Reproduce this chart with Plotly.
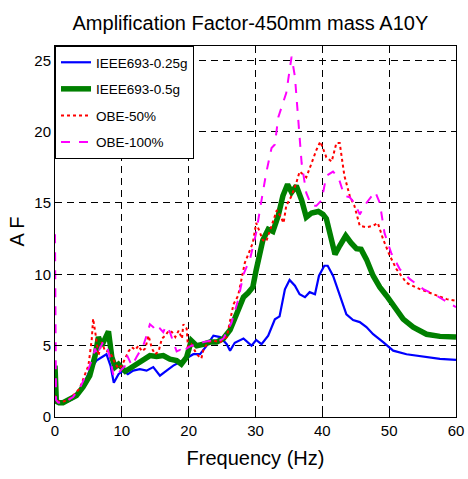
import plotly.graph_objects as go

# Amplification factor vs frequency, 450mm mass, accelerometer A10Y
f_ieee025 = [0, 0.3, 1, 2, 2.7, 3.5, 4.2, 5.2, 6.2, 7.0, 7.7, 8.3, 8.8, 9.5, 10.2, 10.9,
             11.7, 12.7, 13.7, 14.7, 15.7, 16.7, 17.7, 18.7, 19.7, 20.7, 21.7, 22.7, 23.7,
             24.7, 25.7, 26.2, 26.9, 28.2, 29.4, 30.1, 30.9, 31.9, 32.9, 33.6, 34.4, 35.1,
             35.9, 36.6, 37.4, 38.1, 38.9, 39.5, 40.3, 40.8, 41.6, 42.6, 43.6, 44.6, 45.6,
             46.6, 47.6, 49.1, 50.6, 52.6, 55.1, 57.6, 60]
af_ieee025 = [1.3, 1.0, 1.0, 1.1, 1.28, 1.6, 2.2, 3.25, 3.95, 4.2, 4.4, 3.6, 2.4, 3.0, 3.25,
              3.0, 3.25, 3.35, 3.25, 3.5, 2.9, 3.25, 3.6, 3.85, 4.1, 4.4, 4.4, 5.0, 5.7, 5.6,
              5.1, 4.65, 5.2, 5.5, 5.0, 5.4, 5.1, 5.7, 6.85, 7.05, 8.95, 9.6, 9.2, 8.6, 8.4,
              8.75, 8.6, 9.9, 10.6, 10.6, 9.9, 8.5, 7.2, 6.8, 6.65, 6.3, 5.8, 5.25, 4.65, 4.4,
              4.25, 4.07, 4.0]

f_ieee05 = [0, 0.2, 0.6, 1.2, 2.2, 3.2, 4.2, 5.2, 6.0, 6.5, 7.0, 7.5, 8.0, 8.5, 9.0, 9.5,
            10.0, 10.5, 11.2, 12.2, 13.2, 14.2, 15.2, 16.2, 17.2, 18.2, 18.9, 19.7, 20.4,
            21.2, 22.2, 23.2, 24.2, 25.2, 26.2, 27.2, 28.2, 28.9, 29.6, 30.1, 30.6, 31.1,
            31.9, 32.6, 33.4, 34.1, 34.8, 35.4, 36.1, 36.9, 37.6, 38.4, 39.4, 40.1, 40.6,
            41.4, 41.9, 42.6, 43.5, 44.3, 45.1, 45.8, 46.6, 47.6, 48.6, 49.6, 50.6, 52.1,
            53.6, 55.6, 57.6, 60]
af_ieee05 = [3.6, 1.1, 1.0, 1.0, 1.25, 1.5, 2.1, 2.9, 4.3, 5.6, 5.0, 5.5, 6.0, 4.2, 3.5,
             3.7, 3.5, 3.2, 3.4, 3.7, 4.05, 4.3, 4.25, 4.3, 4.05, 3.95, 3.7, 4.2, 5.35, 5.0,
             5.1, 5.25, 5.25, 5.5, 6.1, 7.3, 8.4, 8.7, 9.1, 10.3, 11.5, 12.4, 13.15, 13.0,
             14.1, 15.5, 16.3, 15.75, 16.2, 15.2, 14.0, 14.3, 14.4, 14.2, 13.9, 12.2, 11.4,
             12.0, 12.7, 12.2, 11.8, 11.75, 11.05, 9.9, 9.1, 8.5, 7.8, 6.86, 6.3, 5.8, 5.65,
             5.6]

f_obe50 = [0, 0.3, 1, 2, 2.7, 3.7, 4.5, 5.0, 5.5, 5.7, 6.1, 6.5, 7.0, 7.5, 8.0, 8.5, 9.0,
           9.5, 10.0, 10.5, 11.0, 11.5, 12.0, 12.5, 13.0, 13.5, 14.0, 14.5, 15.0, 15.5,
           16.0, 16.5, 17.0, 17.5, 18.0, 18.5, 19.0, 19.2, 19.7, 19.9, 20.4, 21.2, 21.9,
           22.2, 22.9, 23.7, 24.7, 25.7, 26.2, 26.7, 27.4, 27.8, 28.4, 29.0, 29.6, 30.1,
           30.6, 31.1, 31.6, 32.4, 33.2, 33.7, 34.2, 34.6, 35.4, 36.1, 36.6, 37.1, 37.6,
           38.4, 39.1, 39.7, 40.6, 41.4, 42.1, 42.6, 43.3, 44.1, 44.8, 45.6, 46.6, 47.6,
           48.3, 49.1, 50.1, 51.1, 52.6, 54.6, 56.6, 58.6, 60]
af_obe50 = [1.5, 1.1, 1.05, 1.2, 1.5, 2.0, 3.0, 3.6, 5.45, 6.9, 5.7, 4.3, 5.25, 4.6, 4.6,
            4.3, 3.75, 3.4, 3.6, 4.1, 4.6, 4.9, 4.7, 5.0, 4.6, 4.8, 5.7, 4.8, 4.4, 4.6, 5.5,
            5.7, 6.05, 5.95, 5.6, 6.05, 5.5, 6.5, 6.2, 4.9, 5.1, 4.4, 4.1, 4.7, 5.25, 5.35,
            5.25, 5.6, 6.85, 7.9, 8.5, 9.4, 10.8, 11.5, 12.2, 13.6, 13.0, 12.4, 12.3, 13.4,
            14.5, 14.1, 13.6, 14.8, 15.5, 16.4, 17.2, 17.0, 16.8, 17.8, 18.7, 19.3, 18.2,
            17.9, 19.2, 19.2, 16.9, 15.5, 14.8, 13.4, 13.3, 13.4, 13.6, 12.45, 11.3, 10.35,
            9.4, 8.96, 8.6, 8.26, 8.15]

f_obe100 = [0, 0.15, 0.5, 1.5, 2.7, 3.9, 4.7, 5.2, 5.6, 6.0, 6.3, 6.7, 7.2, 7.7, 8.2, 8.7,
            9.2, 9.7, 10.5, 10.8, 11.1, 11.5, 12.2, 12.7, 13.2, 13.7, 14.2, 14.7, 15.2,
            15.7, 16.2, 16.6, 17.2, 17.7, 18.2, 18.7, 19.2, 19.7, 20.4, 21.4, 22.2, 23.2,
            24.2, 25.2, 26.4, 27.4, 28.2, 29.2, 30.1, 30.9, 31.6, 32.4, 32.9, 33.4, 34.1,
            34.6, 35.1, 35.4, 35.9, 36.4, 36.9, 37.6, 38.4, 39.1, 39.9, 40.6, 41.6, 42.4,
            43.3, 44.1, 44.8, 45.6, 46.6, 47.9, 48.6, 49.3, 50.3, 51.6, 53.1, 55.1, 57.1, 60]
af_obe100 = [12.8, 1.2, 1.0, 1.05, 1.4, 2.2, 3.0, 3.6, 4.1, 4.8, 4.3, 4.8, 5.25, 5.1, 4.2,
             3.0, 2.8, 3.2, 3.6, 4.3, 3.95, 3.6, 4.2, 4.6, 5.0, 5.7, 6.5, 6.3, 5.95, 6.2,
             5.95, 6.4, 5.95, 5.25, 4.6, 4.7, 4.45, 4.8, 5.0, 5.1, 5.25, 5.35, 5.25, 5.5,
             6.6, 8.2, 10.0, 11.1, 12.9, 15.2, 17.1, 18.85, 19.1, 21.0, 22.0, 22.7, 24.3,
             25.25, 23.85, 21.0, 17.8, 15.7, 14.8, 14.8, 15.2, 16.9, 17.2, 16.8, 15.5, 15.4,
             15.0, 14.2, 15.0, 15.8, 15.0, 12.9, 11.5, 10.35, 9.66, 8.96, 8.5, 7.7]

x_ticks = [0, 10, 20, 30, 40, 50, 60]
y_ticks = [0, 5, 10, 15, 20, 25]

FONT = "Liberation Sans, Arial, sans-serif"

fig = go.Figure()
series = [
    (f_ieee025, af_ieee025, "IEEE693-0.25g", dict(color="#0000ff", width=2.2)),
    (f_ieee05, af_ieee05, "IEEE693-0.5g", dict(color="#008000", width=5.5)),
    (f_obe50, af_obe50, "OBE-50%", dict(color="#ff0000", width=2, dash="dot")),
    (f_obe100, af_obe100, "OBE-100%", dict(color="#ff00ff", width=2, dash="dash")),
]
for fx, fy, label, style in series:
    fig.add_trace(go.Scatter(x=fx, y=fy, mode="lines", name=label,
                             legendgroup=label, line=style))

axis_common = dict(
    showline=True, linecolor="black", linewidth=1, mirror="ticks",
    ticks="inside", ticklen=5, tickcolor="black", automargin=False,
    showgrid=True, gridcolor="black", gridwidth=1, griddash="7px,5px",
    zeroline=False, tickfont=dict(family=FONT, size=15, color="black"),
)

fig.update_xaxes(range=[0, 60], tickvals=x_ticks,
                 title=dict(text="Frequency (Hz)", font=dict(family=FONT, size=20, color="black"),
                            standoff=12),
                 **axis_common)
fig.update_yaxes(range=[0, 26], tickvals=y_ticks,
                 title=dict(text="A F", font=dict(family=FONT, size=20, color="black"),
                            standoff=4),
                 **axis_common)

fig.update_layout(
    width=468, height=479,
    margin=dict(l=55, r=12, t=46, b=62),
    paper_bgcolor="white", plot_bgcolor="white",
    title=dict(text="Amplification Factor-450mm mass A10Y", x=0.535, xanchor="center",
               y=0.953, yanchor="middle", automargin=False,
               font=dict(family=FONT, size=20, color="black")),
    legend=dict(x=0, y=1, xanchor="left", yanchor="top", traceorder="grouped",
                bgcolor="white", bordercolor="black", borderwidth=1,
                font=dict(family=FONT, size=13.5, color="black"),
                tracegroupgap=6),
    showlegend=True,
)

fig.write_html("out.html")
